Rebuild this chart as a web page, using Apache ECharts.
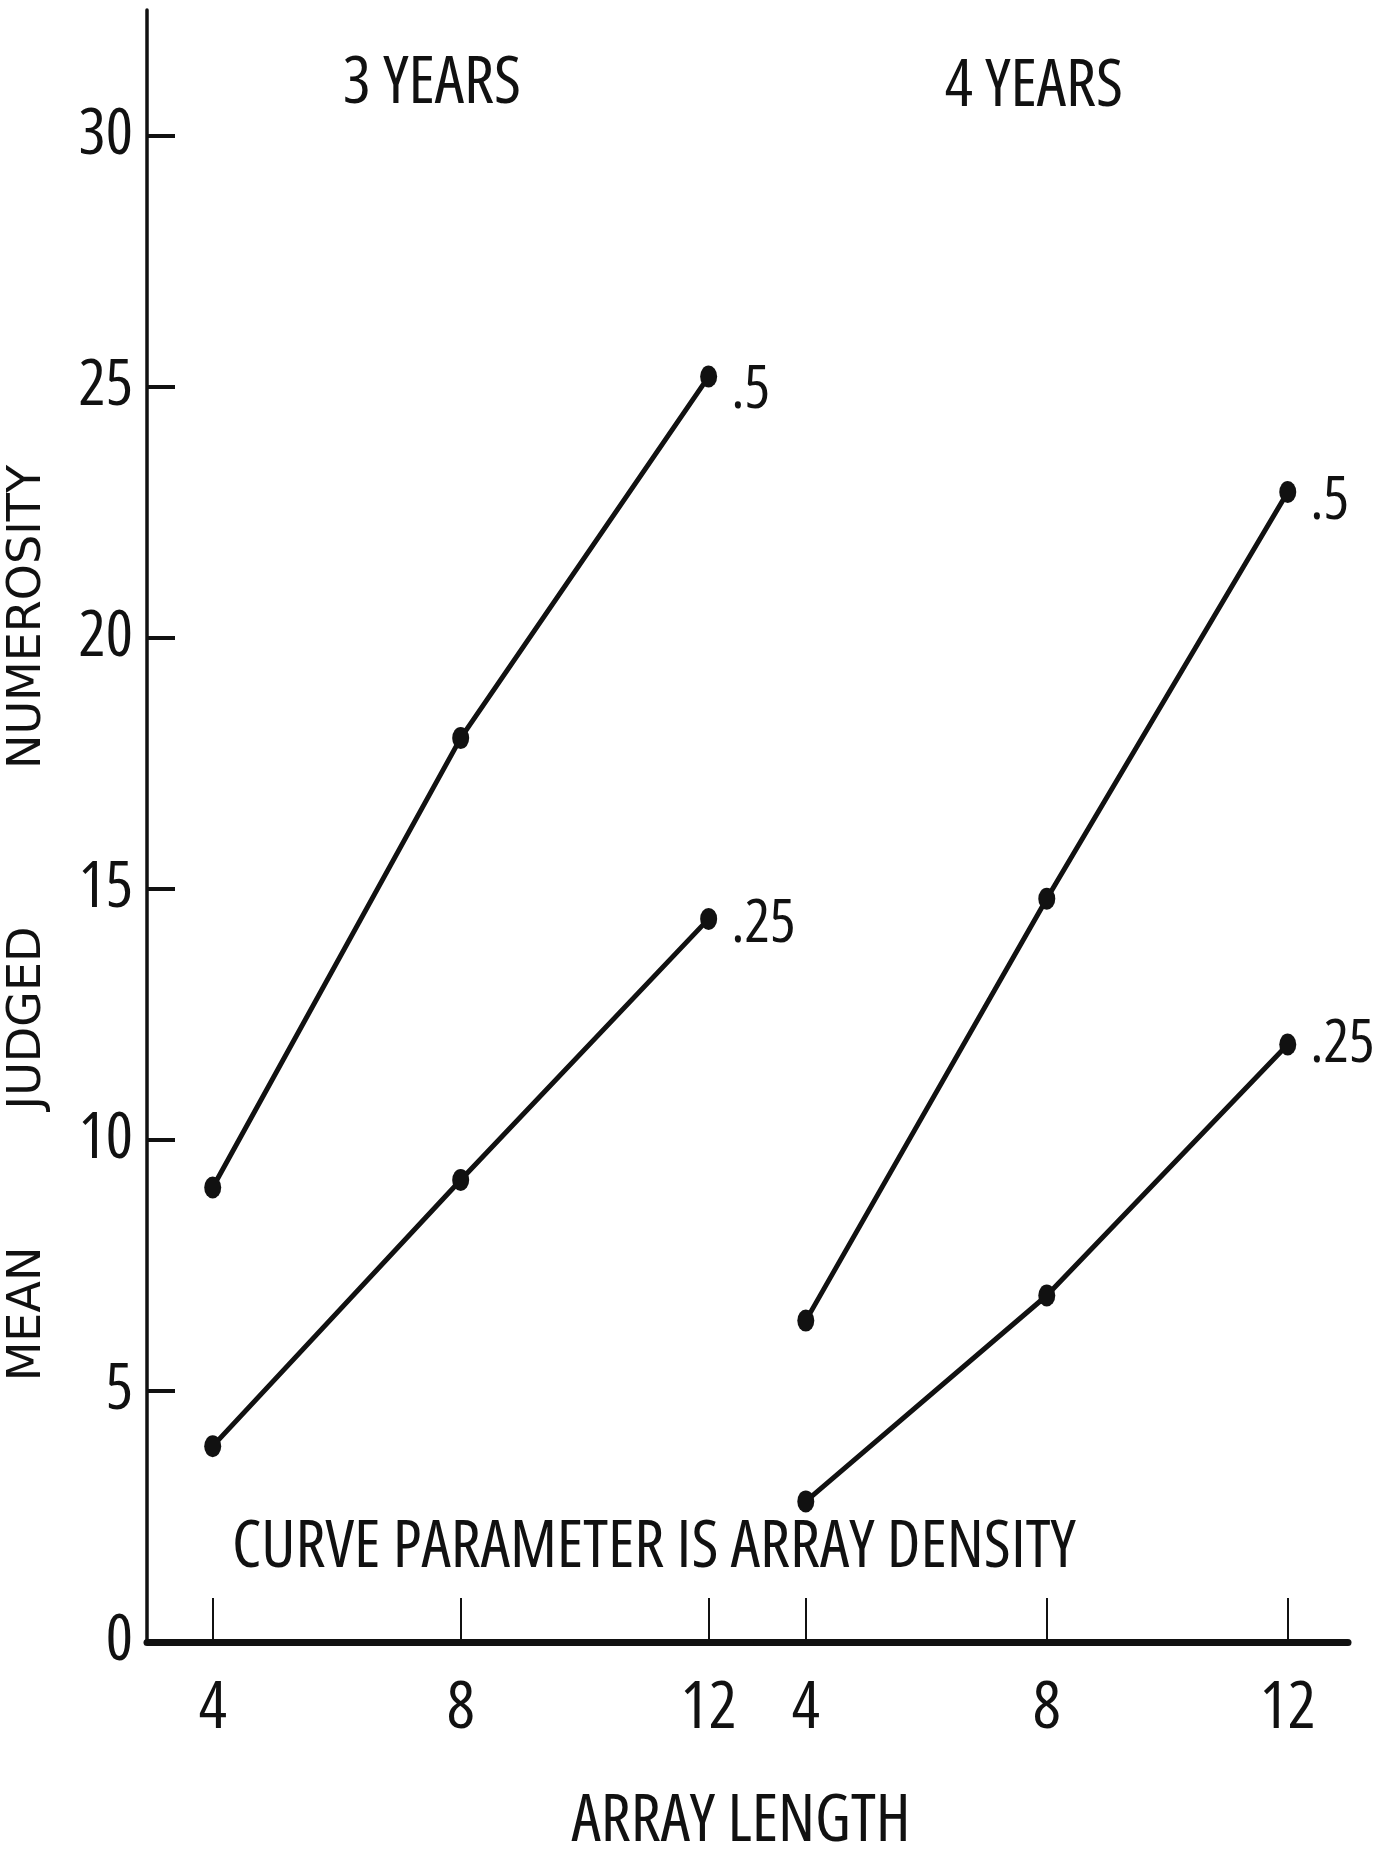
<!DOCTYPE html>
<html>
<head>
<meta charset="utf-8">
<title>Mean judged numerosity</title>
<script src="https://cdn.jsdelivr.net/npm/echarts@6/dist/echarts.min.js"></script>
<style>
  html, body { margin: 0; padding: 0; background: #fff; }
  #chart { width: 1384px; height: 1860px; }
</style>
</head>
<body>
<div id="chart"></div>
<script>
// array length (x) for both panels
const lengths = [4, 8, 12]
// mean judged numerosity
const years3Dense = [9.05, 18.0, 25.2]   // density .5
const years3Sparse = [3.9, 9.2, 14.4]    // density .25
const years4Dense = [6.4, 14.8, 22.9]    // density .5
const years4Sparse = [2.8, 6.9, 11.9]    // density .25
const yTicks = [0, 5, 10, 15, 20, 25, 30]
const densityNames = ['.5', '.25']
const panelNames = ['3 YEARS', '4 YEARS']

const INK = '#111'
// condensed lettering, like the stencil text of the original
const NARROW = "'Open Sans', 'Roboto Condensed', sans-serif"
const STRETCH = 'condensed'
const WIDE = "'DejaVu Sans', 'Noto Sans', sans-serif"

function curve (panel, values, tag, dy) {
  return {
    type: 'line',
    xAxisIndex: panel,
    yAxisIndex: panel,
    data: lengths.map((x, i) => {
      if (i === lengths.length - 1) {
        return { value: [x, values[i]], label: { show: true, formatter: tag } }
      }
      return [x, values[i]]
    }),
    symbol: 'circle',
    symbolSize: [17, 22],
    lineStyle: { color: INK, width: 5 },
    itemStyle: { color: INK },
    label: {
      show: false,
      position: 'right',
      distance: 14,
      offset: [0, dy],
      color: INK,
      fontSize: 60,
      fontWeight: STRETCH, // goes into the font shorthand before the size
      fontFamily: NARROW
    },
    silent: true
  }
}

function xAxisFor (panel, min, max) {
  return {
    type: 'value',
    gridIndex: panel,
    min: min,
    max: max,
    axisLine: { show: true, onZero: false, lineStyle: { color: INK, width: 7 } },
    axisTick: {
      show: true,
      inside: true,
      length: 44,
      customValues: lengths,
      lineStyle: { color: INK, width: 2 }
    },
    axisLabel: {
      customValues: lengths,
      margin: 34,
      color: INK,
      fontSize: 66,
      fontWeight: STRETCH,
      fontFamily: NARROW
    },
    splitLine: { show: false }
  }
}

function yAxisFor (panel, visible) {
  return {
    type: 'value',
    gridIndex: panel,
    min: 0,
    max: 32.5,
    show: visible,
    axisLine: { show: true, lineStyle: { color: INK, width: 3.5 } },
    axisTick: {
      show: true,
      inside: true,
      length: 28,
      customValues: yTicks.slice(1),
      lineStyle: { color: INK, width: 4 }
    },
    axisLabel: {
      customValues: yTicks,
      margin: 14,
      color: INK,
      fontSize: 64,
      fontWeight: STRETCH,
      fontFamily: NARROW
    },
    splitLine: { show: false }
  }
}

function label (text, x, y, font, rotation) {
  return {
    type: 'text',
    x: x,
    y: y,
    rotation: rotation || 0,
    silent: true,
    style: {
      text: text,
      fill: INK,
      font: font,
      textAlign: 'center',
      textVerticalAlign: 'middle'
    }
  }
}

const bigText = STRETCH + ' 66px ' + NARROW
const nameText = '46px ' + WIDE

const chart = echarts.init(document.getElementById('chart'))
const option = {
  backgroundColor: '#fff',
  animation: false,
  grid: [
    { left: 147, top: 10, width: 610, bottom: 218, outerBoundsMode: 'none' },
    { left: 757, top: 10, width: 591, bottom: 218, outerBoundsMode: 'none' }
  ],
  xAxis: [xAxisFor(0, 2.94, 12.78), xAxisFor(1, 3.19, 13.0)],
  yAxis: [yAxisFor(0, true), yAxisFor(1, false)],
  series: [
    curve(0, years3Dense, densityNames[0], 14),
    curve(0, years3Sparse, densityNames[1], 6),
    curve(1, years4Dense, densityNames[0], 10),
    curve(1, years4Sparse, densityNames[1], 0)
  ],
  graphic: [
    label(panelNames[0], 432, 84, bigText),
    label(panelNames[1], 1034, 87, bigText),
    label('CURVE PARAMETER IS ARRAY DENSITY', 654, 1548, bigText),
    label('ARRAY LENGTH', 741, 1822, bigText),
    // y axis title, rotated, word by word as spaced in the original
    label('MEAN', 28, 1314, nameText, Math.PI / 2),
    label('JUDGED', 28, 1018, nameText, Math.PI / 2),
    label('NUMEROSITY', 28, 617, nameText, Math.PI / 2)
  ]
}
chart.setOption(option)
</script>
</body>
</html>
